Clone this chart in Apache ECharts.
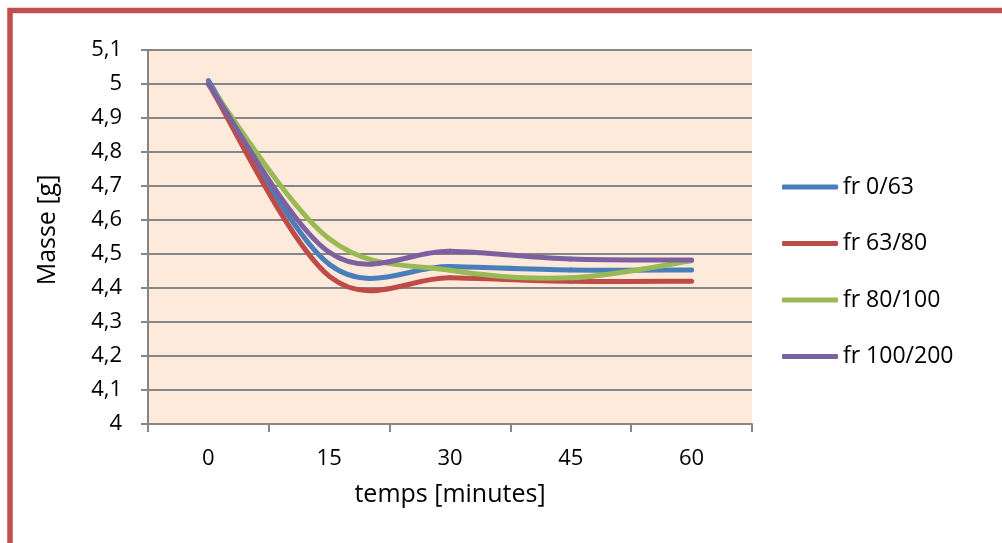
<!DOCTYPE html>
<html>
<head>
<meta charset="utf-8">
<script src="https://cdn.jsdelivr.net/npm/echarts@6/dist/echarts.min.js"></script>
<style>
html,body{margin:0;padding:0;background:#fff;}
#c{width:1002px;height:543px;}
</style>
</head>
<body>
<div id="c"></div>
<script>
var categories = ['0', '15', '30', '45', '60'];
var seriesNames = ['fr 0/63', 'fr 63/80', 'fr 80/100', 'fr 100/200'];
var fr0_63 = [5.01, 4.47, 4.463, 4.453, 4.453];
var fr63_80 = [5.0, 4.435, 4.43, 4.42, 4.42];
var fr80_100 = [5.0, 4.545, 4.452, 4.43, 4.48];
var fr100_200 = [5.0, 4.505, 4.508, 4.485, 4.482];
var colors = ['#4A7EBB', '#BE4B48', '#98B954', '#7D60A0'];

var FONT = "'Open Sans', 'Noto Sans', sans-serif";
var chart = echarts.init(document.getElementById('c'), null, {renderer: 'canvas'});
var allData = [fr0_63, fr63_80, fr80_100, fr100_200];

// Catmull-Rom style smoothed segment (like Excel's smoothed line), drawn between
// consecutive data points using the axis scales via api.coord.
function makeRenderItem(values, color) {
  return function (params, api) {
    var i = params.dataIndex;
    var n = values.length;
    if (i >= n - 1) { return null; }
    function pt(k) {
      k = Math.max(0, Math.min(n - 1, k));
      return api.coord([k, values[k]]);
    }
    var p0 = pt(i - 1), p1 = pt(i), p2 = pt(i + 1), p3 = pt(i + 2);
    var t = 1 / 6;
    return {
      type: 'bezierCurve',
      shape: {
        x1: p1[0], y1: p1[1],
        x2: p2[0], y2: p2[1],
        cpx1: p1[0] + (p2[0] - p0[0]) * t,
        cpy1: p1[1] + (p2[1] - p0[1]) * t,
        cpx2: p2[0] - (p3[0] - p1[0]) * t,
        cpy2: p2[1] - (p3[1] - p1[1]) * t
      },
      style: {fill: null, stroke: color, lineWidth: 5, lineCap: 'round', lineJoin: 'round'}
    };
  };
}

chart.setOption({
  animation: false,
  backgroundColor: '#ffffff',
  color: colors,
  graphic: [{
    type: 'rect',
    shape: {x: 10, y: 10.5, width: 1200, height: 1000},
    style: {fill: 'none', stroke: '#C0504D', lineWidth: 5.5},
    silent: true,
    z: 100
  }],
  grid: {
    left: 148, right: 250, top: 50, bottom: 119,
    show: true, backgroundColor: '#FDEADA', borderWidth: 0
  },
  legend: {
    orient: 'vertical',
    left: 777, top: 170,
    itemWidth: 56, itemHeight: 5,
    itemGap: 32.5,
    icon: 'roundRect',
    textStyle: {fontFamily: FONT, fontSize: 23, color: '#000', lineHeight: 24},
    data: seriesNames
  },
  xAxis: {
    type: 'category',
    data: categories,
    boundaryGap: true,
    name: 'temps [minutes]',
    nameLocation: 'middle',
    nameGap: 58,
    nameTextStyle: {fontFamily: FONT, fontSize: 25, color: '#000'},
    axisLine: {show: true, lineStyle: {color: '#868686', width: 2}},
    axisTick: {show: true, alignWithLabel: false, length: 8, lineStyle: {color: '#868686', width: 2}},
    axisLabel: {fontFamily: FONT, fontSize: 22, color: '#000', margin: 24},
    splitLine: {show: false}
  },
  yAxis: {
    type: 'value',
    min: 4, max: 5.1, interval: 0.1,
    name: 'Masse [g]',
    nameLocation: 'middle',
    nameGap: 88,
    nameRotate: 90,
    nameTextStyle: {fontFamily: FONT, fontSize: 25, color: '#000', padding: [0, 0, 0, 14]},
    axisLine: {show: true, lineStyle: {color: '#868686', width: 2}},
    axisTick: {show: true, length: 7, lineStyle: {color: '#868686', width: 2}},
    axisLabel: {
      fontFamily: FONT, fontSize: 22, color: '#000', margin: 26,
      formatter: function (v) { return String(Math.round(v * 10) / 10).replace('.', ','); }
    },
    splitLine: {show: true, lineStyle: {color: '#868686', width: 2}}
  },
  series: seriesNames.map(function (n, i) {
    return {
      name: n,
      type: 'custom',
      data: allData[i].map(function (v, k) { return [k, v]; }),
      encode: {x: 0, y: 1},
      renderItem: makeRenderItem(allData[i], colors[i]),
      itemStyle: {color: colors[i]},
      clip: false,
      z: 2 + i
    };
  })
});
</script>
</body>
</html>
